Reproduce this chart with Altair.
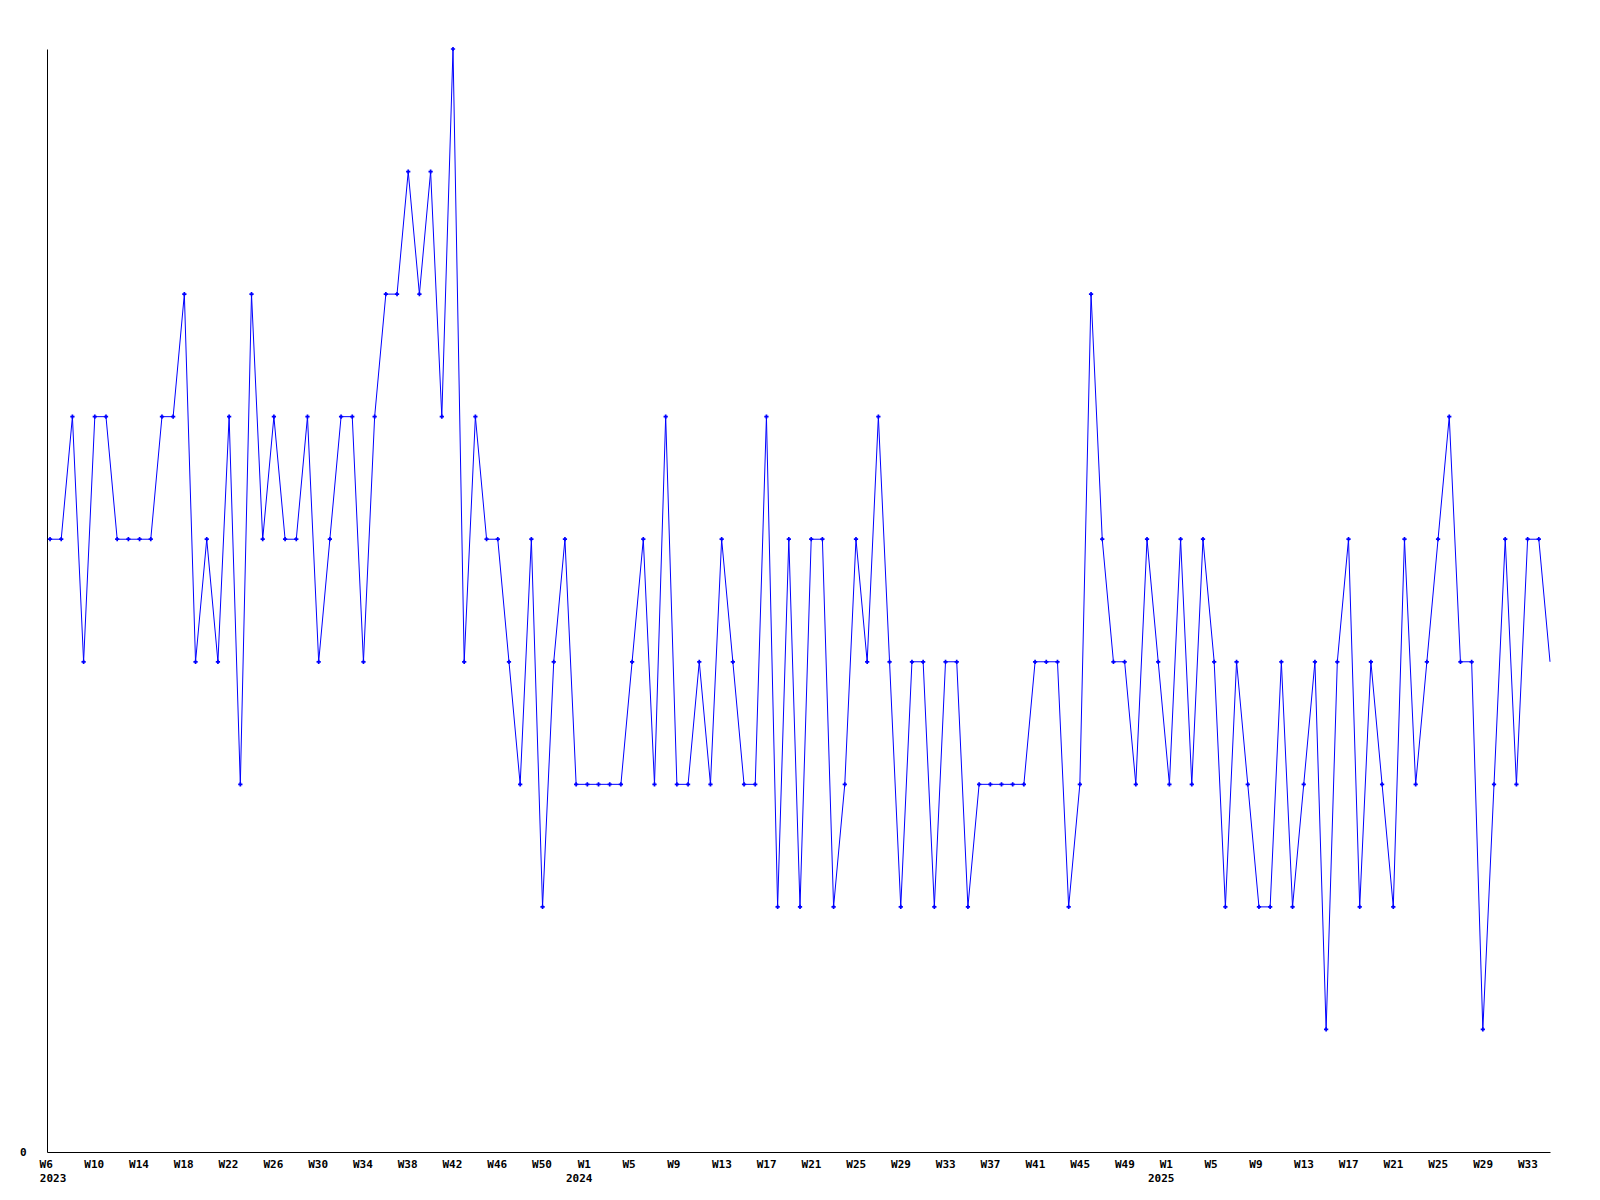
import json
import altair as alt
import pandas as pd

# ---- data (weekly values) ----
years = [2023, 2024, 2025]
first_week = {2023: 6, 2024: 1, 2025: 1}

values_2023 = [5, 5, 6, 4, 6, 6, 5, 5, 5, 5, 6, 6, 7, 4, 5, 4, 6, 3, 7, 5, 6, 5, 5, 6, 4, 5, 6, 6, 4,
               6, 7, 7, 8, 7, 8, 6, 9, 4, 6, 5, 5, 4, 3, 5, 2, 4, 5]
values_2024 = [3, 3, 3, 3, 3, 4, 5, 3, 6, 3,
               3, 4, 3, 5, 4, 3, 3, 6, 2, 5, 2, 5, 5, 2, 3, 5, 4, 6, 4, 2, 4, 4, 2, 4, 4, 2, 3, 3,
               3, 3, 3, 4, 4, 4, 2, 3, 7, 5, 4, 4, 3, 5]
values_2025 = [4, 3, 5, 3, 5, 4, 2, 4, 3, 2, 2, 4, 2, 3,
               4, 1, 4, 5, 2, 4, 3, 2, 5, 3, 4, 5, 6, 4, 4, 1, 3, 5, 3, 5, 5, 4]
values_by_year = {2023: values_2023, 2024: values_2024, 2025: values_2025}

# tick labels shown on the x axis (week numbers per year)
label_weeks = {
    2023: [6, 10, 14, 18, 22, 26, 30, 34, 38, 42, 46, 50],
    2024: [1, 5, 9, 13, 17, 21, 25, 29, 33, 37, 41, 45, 49],
    2025: [1, 5, 9, 13, 17, 21, 25, 29, 33],
}

rows = []
year_rows = []
tick_idx = []
tick_text = {}
i = 0
for yr in years:
    for k, v in enumerate(values_by_year[yr]):
        wk = first_week[yr] + k
        rows.append({"idx": i, "year": yr, "week": wk, "value": v})
        if wk in label_weeks[yr]:
            tick_idx.append(i)
            tick_text[str(i)] = f"W{wk}"
            if wk == label_weeks[yr][0]:
                year_rows.append({"idx": i, "label": str(yr)})
        i += 1

df = pd.DataFrame(rows)
df_years = pd.DataFrame(year_rows)
last_idx = int(df["idx"].max())
first_idx_2024 = len(values_2023)

label_expr = json.dumps(tick_text) + "[datum.value]"

FONT = "DejaVu Sans Mono"

x_enc = alt.X(
    "idx:Q",
    scale=alt.Scale(domain=[-0.27, last_idx], nice=False, zero=False),
    axis=alt.Axis(
        values=tick_idx,
        labelExpr=label_expr,
        title=None,
        grid=False,
        ticks=False,
        domainColor="black",
        domainWidth=1,
        labelFont=FONT,
        labelFontWeight="bold",
        labelFontSize=11,
        labelColor="black",
        labelPadding=6,
        labelAlign="left",
        labelOffset={"condition": {"test": f"datum.value < {first_idx_2024}", "value": -11}, "value": 1},
        labelBaseline="top",
        labelOverlap=False,
        labelFlush=False,
    ),
)
y_enc = alt.Y(
    "value:Q",
    scale=alt.Scale(domain=[0, 9], nice=False, zero=True),
    axis=alt.Axis(
        values=[0],
        title=None,
        grid=False,
        ticks=False,
        domainColor="black",
        domainWidth=1,
        labelFont=FONT,
        labelFontWeight="bold",
        labelFontSize=11,
        labelColor="black",
        labelPadding=21,
        labelBaseline="middle",
    ),
)

line = alt.Chart(df).mark_line(color="#0000FF", strokeWidth=1).encode(x=x_enc, y=y_enc)
pts = (
    alt.Chart(df)
    .transform_filter(alt.datum.idx < last_idx)
    .mark_point(shape="cross", size=18, filled=True, color="#0000FF", opacity=1)
    .encode(x=x_enc, y=y_enc)
)
year_text = (
    alt.Chart(df_years)
    .mark_text(font=FONT, fontWeight="bold", fontSize=11, color="black",
               align="center", baseline="middle", dx=3)
    .encode(x=x_enc, y=alt.value(1130), text="label:N")
)

chart = (
    alt.layer(line, pts, year_text)
    .properties(
        width=1503,
        height=1103,
        autosize=alt.AutoSizeParams(type="none"),
        padding={"left": 39, "top": 41, "right": 30, "bottom": 50},
        background="white",
    )
    .configure_view(stroke=None)
)

chart.save("out.html", embed_options={"renderer": "svg", "actions": False})
